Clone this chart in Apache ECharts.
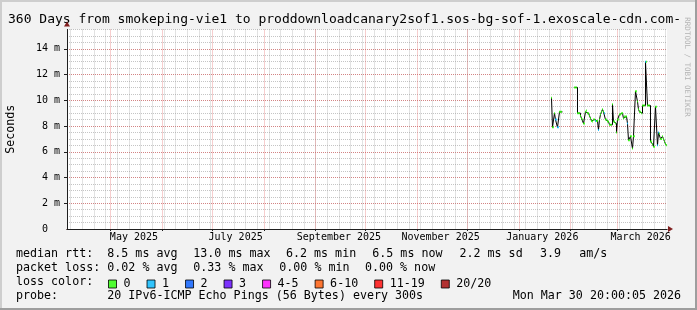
<!DOCTYPE html>
<html><head><meta charset="utf-8">
<script src="https://cdn.jsdelivr.net/npm/echarts@6/dist/echarts.min.js"></script>
<style>html,body{margin:0;padding:0;background:#f2f2f2}#c{width:697px;height:310px}</style>
</head><body><div id="c"></div>
<script>
// ---------------- data ----------------
const titleText = '360 Days from smokeping-vie1 to proddownloadcanary2sof1.sos-bg-sof-1.exoscale-cdn.com-';
const graphEnd = '2026-03-30T20:00:05Z';
const rangeDays = 360;
const yTickValues = [0, 2, 4, 6, 8, 10, 12, 14];
const yUnit = 'm';
const yMax = 15.5;
const monthStarts = ['2025-05-01','2025-06-01','2025-07-01','2025-08-01','2025-09-01','2025-10-01',
  '2025-11-01','2025-12-01','2026-01-01','2026-02-01','2026-03-01'];
const xLabelDates = ['2025-05-15','2025-07-15','2025-09-15','2025-11-15','2026-01-15','2026-03-15'];
const xLabelTexts = ['May 2025','July 2025','September 2025','November 2025','January 2026','March 2026'];
const lossClasses = ['0','1','2','3','4-5','6-10','11-19','20/20'];
const lossColors = ['#26ff00','#00b8ff','#0059ff','#5e00ff','#ff00ff','#ff5500','#ff0000','#a10000'];

// median RTT in ms, one value per consolidated step (14.4 h), starting at sampleStart
const sampleStart = '2026-01-20T12:45:05Z';
const sampleStepHours = 14.4;
const medianMs = [
  10.2, 7.9, 7.9, 9.0, 8.5, 8.5, 7.9, 7.9, 9.1, 9.1, 9.1,
  null, null, null, null, null, null, null, null, null, null, null, null,
  11.0, 11.0, 11.0, 9.0, 9.0, 9.0, 8.8, 8.6, 8.5, 8.2, 8.2, 9.1, 9.2, 9.0, 9.0, 8.8, 8.6, 8.4,
  8.35, 8.5, 8.5, 8.4, 8.4, 8.4, 7.7, 8.5, 8.9, 9.1, 9.3, 9.1, 9.0,
  8.5, 8.5, 8.35, 8.35, 8.1, 8.1, 8.1, 9.7, 8.35, 8.35, 8.2, 7.5, 8.5, 8.5, 8.9, 8.9, 9.0, 9.0,
  8.6, 8.75, 8.75, 8.75, 8.2,
  6.9, 6.9, 7.2, 7.2, 6.25, 7.2, 7.2, 10.7, 10.7, 9.9, 9.3, 9.1, 9.1, 9.0, 9.6, 9.6, 9.6, 13.0,
  13.0, 9.6, 9.6, 9.6,
  6.8, 6.8, 6.6, 6.4, 6.4, 9.5, 9.5, 6.5, 7.5, 7.4, 7.0, 7.0, 7.2, 7.0, 6.8, 6.6, 6.5
];
// lost pings (of 20) for each step
const lossCount = [
  0, 0, 0, 0, 1, 1, 1, 1, 0, 0, 0,
  null, null, null, null, null, null, null, null, null, null, null, null,
  0, 0, 0, 0, 0, 0, 0, 0, 0, 0, 0, 0, 0, 0, 0, 0, 0, 0,
  0, 0, 0, 1, 0, 0, 1, 0, 0, 0, 0, 0, 1,
  0, 0, 0, 0, 0, 0, 0, 0, 0, 0, 0, 0, 0, 0, 0, 0, 0, 0,
  0, 0, 0, 0, 1,
  0, 0, 0, 0, 0, 0, 0, 0, 0, 0, 0, 0, 0, 0, 0, 0, 0, 1,
  0, 0, 0, 0,
  0, 0, 0, 0, 0, 0, 0, 1, 1, 0, 0, 0, 0, 0, 0, 0, 0
];

// legend texts
const legendRows = [
  ['median rtt:', '8.5 ms avg', '13.0 ms max', '6.2 ms min', '6.5 ms now', '2.2 ms sd', '3.9', 'am/s'],
  ['packet loss:', '0.02 % avg', '0.33 % max', '0.00 % min', '0.00 % now'],
  ['loss color:'],
  ['probe:', '20 IPv6-ICMP Echo Pings (56 Bytes) every 300s', 'Mon Mar 30 20:00:05 2026']
];
const watermark = 'RRDTOOL / TOBI OETIKER';

// ---------------- layout ----------------
const legendX = [
  [16, 107.3, 193.3, 286, 372.3, 459.5, 540, 579.3],
  [16, 107.3, 193.3, 279.3, 365],
  [16],
  [16, 107.3, 512.7]
];
const legendY = [254.3, 268.3, 282.3, 296.3];
const MONO = '"DejaVu Sans Mono", monospace';
const minorColor = 'rgba(150,150,150,0.55)';
const majorColor = 'rgba(222,79,79,0.55)';
const hiddenTick = { show: true, length: 0, lineStyle: { color: 'rgba(0,0,0,0)', width: 0 } };

// ---------------- build ----------------
const DAY = 86400000;
const toMs = s => new Date(s.length === 10 ? s + 'T00:00:00Z' : s).getTime();
const END = toMs(graphEnd);
const START = END - rangeDays * DAY;

const weekLines = [];
for (let t = toMs('2025-04-07'); t < END; t += 7 * DAY) weekLines.push(t);
const yMinor = [];
for (let v = 0.5; v <= yMax + 1e-9; v += 0.5) yMinor.push(v);

const t0 = toMs(sampleStart);
const stepMs = sampleStepHours * 3600000;
const lineData = medianMs.map((v, i) => [t0 + i * stepMs, v == null ? '-' : v]);
function lossClass(n) {
  if (n <= 3) return n;
  if (n <= 5) return 4;
  if (n <= 10) return 5;
  if (n <= 19) return 6;
  return 7;
}
const classData = lossClasses.map(() => []);
medianMs.forEach((v, i) => {
  if (v == null) return;
  classData[lossClass(lossCount[i])].push([t0 + i * stepMs, v]);
});

const xBase = { type: 'value', min: START, max: END, position: 'bottom' };
const yBase = { type: 'value', min: 0, max: yMax, position: 'left' };

const graphics = [
  { type: 'text', x: 8, y: 19.5, style: { text: titleText, fontFamily: MONO, fontSize: 13, fill: '#000', verticalAlign: 'middle' } },
  { type: 'text', x: 687, y: 67, rotation: -Math.PI / 2,
    style: { text: watermark, fontFamily: MONO, fontSize: 7.5, fill: '#b4b4b4', align: 'center', verticalAlign: 'middle' } },
  // frame shading
  { type: 'rect', shape: { x: 0, y: 0, width: 697, height: 2 }, style: { fill: '#cecece' } },
  { type: 'rect', shape: { x: 0, y: 0, width: 2, height: 310 }, style: { fill: '#cecece' } },
  { type: 'rect', shape: { x: 0, y: 308, width: 697, height: 2 }, style: { fill: '#9e9e9e' } },
  { type: 'rect', shape: { x: 695, y: 0, width: 2, height: 310 }, style: { fill: '#9e9e9e' } }
];
legendRows.forEach((row, r) => {
  row.forEach((txt, c) => {
    graphics.push({ type: 'text', x: legendX[r][c], y: legendY[r],
      style: { text: txt, fontFamily: MONO, fontSize: 11.67, fill: '#000', verticalAlign: 'middle' } });
  });
});

const series = [
  { name: 'median', type: 'line', xAxisIndex: 2, yAxisIndex: 2, data: lineData, step: 'end',
    showSymbol: false, symbol: 'none', connectNulls: false, lineStyle: { color: '#000', width: 1 },
    silent: true, z: 3, legendHoverLink: false }
];
lossClasses.forEach((name, k) => {
  series.push({ name: name, type: 'scatter', xAxisIndex: 2, yAxisIndex: 2, data: classData[k],
    symbol: 'rect', symbolSize: [1, 2], itemStyle: { color: lossColors[k] }, silent: true, z: 4 });
});

const option = {
  animation: false,
  backgroundColor: '#f2f2f2',
  grid: { left: 67, right: 30, top: 29.5, bottom: 81, show: true, backgroundColor: '#ffffff', borderWidth: 0,
    containLabel: false, outerBoundsMode: 'none' },
  xAxis: [
    Object.assign({}, xBase, { axisLine: { show: false }, axisTick: Object.assign({ customValues: weekLines }, hiddenTick),
      axisLabel: { show: false }, splitLine: { show: true, lineStyle: { color: minorColor, type: [1, 1], width: 1 } } }),
    Object.assign({}, xBase, { axisLine: { show: true, onZero: false, symbol: ['none', 'triangle'], symbolSize: [6, 5],
      symbolOffset: [0, 3.5], lineStyle: { color: '#801f1f', width: 1 } },
      axisTick: { show: false }, axisLabel: { show: false }, splitLine: { show: false } }),
    Object.assign({}, xBase, { axisLine: { show: true, onZero: false, lineStyle: { color: '#1f1f1f', width: 1 } },
      axisTick: { show: true, customValues: monthStarts.map(toMs), length: 2, lineStyle: { color: '#1f1f1f' } },
      axisLabel: { show: true, customValues: xLabelDates.map(toMs), margin: 3, fontFamily: MONO, fontSize: 10, color: '#000',
        formatter: v => { const i = xLabelDates.map(toMs).findIndex(t => Math.abs(t - v) < 1000); return i >= 0 ? xLabelTexts[i] : ''; } },
      splitLine: { show: true, lineStyle: { color: majorColor, type: [1, 1], width: 1 } } })
  ],
  yAxis: [
    Object.assign({}, yBase, { axisLine: { show: false }, axisTick: Object.assign({ customValues: yMinor }, hiddenTick),
      axisLabel: { show: false }, splitLine: { show: true, lineStyle: { color: minorColor, type: [1, 1], width: 1 } } }),
    Object.assign({}, yBase, { axisLine: { show: true, onZero: false, symbol: ['none', 'triangle'], symbolSize: [6, 5],
      symbolOffset: [0, 5.5], lineStyle: { color: '#801f1f', width: 1 } },
      axisTick: { show: false }, axisLabel: { show: false }, splitLine: { show: false } }),
    Object.assign({}, yBase, { axisLine: { show: true, onZero: false, lineStyle: { color: '#1f1f1f', width: 1 } },
      axisTick: { show: true, customValues: yTickValues.filter(v => v > 0), length: 3, lineStyle: { color: '#1f1f1f' } },
      axisLabel: { show: true, customValues: yTickValues, margin: 7, fontFamily: MONO, fontSize: 10, color: '#000',
        formatter: v => (v === 0 ? '0  ' : v + ' ' + yUnit) },
      splitLine: { show: true, lineStyle: { color: majorColor, type: [1, 1], width: 1 } },
      name: 'Seconds', nameLocation: 'middle', nameGap: 50, nameRotate: 90,
      nameTextStyle: { fontFamily: MONO, fontSize: 11.67, color: '#000' } })
  ],
  legend: {
    data: lossClasses, left: 108, top: 278, padding: 0, itemWidth: 8, itemHeight: 8, itemGap: 16,
    icon: 'rect', selectedMode: false,
    itemStyle: { borderColor: '#000', borderWidth: 1 },
    textStyle: { fontFamily: MONO, fontSize: 11.67, color: '#000', padding: [0, 0, 0, 2] }
  },
  graphic: graphics,
  series: series
};

const chart = echarts.init(document.getElementById('c'));
chart.setOption(option);
</script>
</body></html>
